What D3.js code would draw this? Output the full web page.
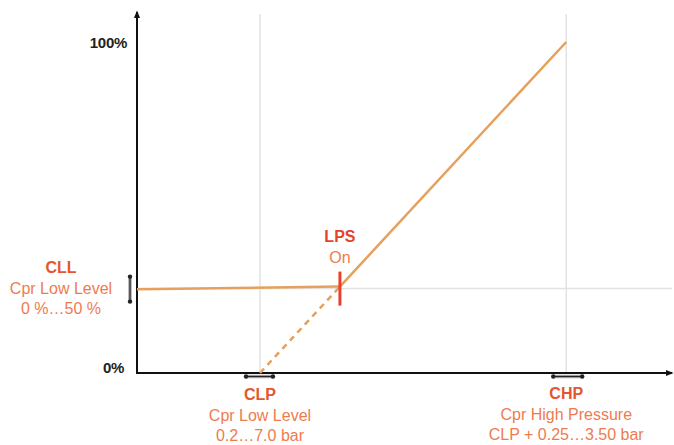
<!DOCTYPE html>
<html>
<head>
<meta charset="utf-8">
<script src="https://cdn.jsdelivr.net/npm/d3@7"></script>
<style>
  body { margin: 0; background: #fff; }
  text { font-family: "Liberation Sans", Arial, sans-serif; }
</style>
</head>
<body>
<script>
var width = 674, height = 445;

// pressure (abstract units) and capacity %
var yTicks = [0, 100];
var yTickLabels = ['0%', '100%'];
var clp = 1.0, chp = 3.49, lps = 1.65;
var levelLine = [[0, 25.3], [lps, 26.1]];
var rampLine = [[lps, 26.1], [chp, 100]];
var dashLine = [[clp, 0], [lps, 26.1]];
var cllLevel = 25.8;

var x = d3.scaleLinear().domain([0, 4.35]).range([137, 672]);
var y = d3.scaleLinear().domain([0, 100]).range([373, 42]);

var svg = d3.select('body').append('svg')
    .attr('width', width)
    .attr('height', height);

var defs = svg.append('defs');
defs.append('marker').attr('id', 'arr')
    .attr('viewBox', '0 0 10 10').attr('refX', 8).attr('refY', 5)
    .attr('markerWidth', 4).attr('markerHeight', 4).attr('orient', 'auto')
    .append('path').attr('d', 'M0,1 L10,5 L0,9 Z').attr('fill', '#111');

// grid
var grid = svg.append('g').attr('stroke', '#e2e2e2').attr('stroke-width', 1.5);
[clp, chp].forEach(function (v) {
    grid.append('line')
        .attr('x1', x(v)).attr('x2', x(v))
        .attr('y1', 14).attr('y2', y(0));
});
grid.append('line')
    .attr('x1', x(0)).attr('x2', x(4.35))
    .attr('y1', y(cllLevel) + 1).attr('y2', y(cllLevel) + 1);

// axes
svg.append('line')
    .attr('x1', x(0)).attr('x2', x(0))
    .attr('y1', y(0) + 1).attr('y2', 12)
    .attr('stroke', '#111').attr('stroke-width', 2)
    .attr('marker-end', 'url(#arr)');
svg.append('line')
    .attr('x1', x(0) - 1).attr('x2', x(4.35))
    .attr('y1', y(0)).attr('y2', y(0))
    .attr('stroke', '#111').attr('stroke-width', 2)
    .attr('marker-end', 'url(#arr)');

svg.selectAll('.ytick')
    .data(yTicks)
    .enter().append('text')
        .attr('class', 'ytick')
        .attr('x', function (d) { return d == 0 ? 124 : 127; })
        .attr('y', function (d) { return y(d) + (d == 0 ? 0 : 6); })
        .attr('text-anchor', 'end')
        .attr('font-size', 15)
        .attr('font-weight', 'bold')
        .attr('letter-spacing', -0.3)
        .attr('fill', '#222')
        .text(function (d, i) { return yTickLabels[i]; });

// curve
var line = d3.line()
    .x(function (d) { return x(d[0]); })
    .y(function (d) { return y(d[1]); });

svg.append('path').datum(dashLine).attr('d', line)
    .attr('fill', 'none').attr('stroke', '#e6a05c').attr('stroke-width', 2.5)
    .attr('stroke-dasharray', '6,5');
svg.append('path').datum(levelLine).attr('d', line)
    .attr('fill', 'none').attr('stroke', '#e6a05c').attr('stroke-width', 2.5);
svg.append('path').datum(rampLine).attr('d', line)
    .attr('fill', 'none').attr('stroke', '#e6a05c').attr('stroke-width', 2.5);

// LPS marker
svg.append('line')
    .attr('x1', x(lps)).attr('x2', x(lps))
    .attr('y1', y(26.1) - 15).attr('y2', y(26.1) + 19)
    .attr('stroke', '#e8402a').attr('stroke-width', 3);

// range indicators
var ind = svg.append('g');
function rangeBar(x1, y1, x2, y2) {
    ind.append('line')
        .attr('x1', x1).attr('y1', y1).attr('x2', x2).attr('y2', y2)
        .attr('stroke', '#aaa').attr('stroke-width', 3.5);
    ind.append('line')
        .attr('x1', x1).attr('y1', y1).attr('x2', x2).attr('y2', y2)
        .attr('stroke', '#222').attr('stroke-width', 1.2);
    [[x1, y1], [x2, y2]].forEach(function (p) {
        ind.append('circle').attr('cx', p[0]).attr('cy', p[1]).attr('r', 2.2).attr('fill', '#222');
    });
}
rangeBar(130, y(cllLevel) - 11, 130, y(cllLevel) + 14);
rangeBar(x(clp) - 14, y(0) + 3.5, x(clp) + 13, y(0) + 3.5);
rangeBar(x(chp) - 13, y(0) + 3.5, x(chp) + 16, y(0) + 3.5);

// labels
function label(cx, cy, lines, firstColor) {
    var t = svg.append('text').attr('text-anchor', 'middle').attr('font-size', 16);
    lines.forEach(function (s, i) {
        t.append('tspan')
            .attr('x', cx).attr('y', cy + i * 20.5)
            .attr('font-weight', i == 0 ? 'bold' : 'normal')
            .attr('fill', i == 0 ? firstColor : '#ee7b50')
            .text(s);
    });
}
label(61, 273, ['CLL', 'Cpr Low Level', '0 %\u202650 %'], '#e4572e');
label(x(clp), 400, ['CLP', 'Cpr Low Level', '0.2\u20267.0 bar'], '#e4572e');
label(x(chp), 399, ['CHP', 'Cpr High Pressure', 'CLP + 0.25\u20263.50 bar'], '#e4572e');
label(x(lps), 242, ['LPS', 'On'], '#e4442c');
</script>
</body>
</html>
